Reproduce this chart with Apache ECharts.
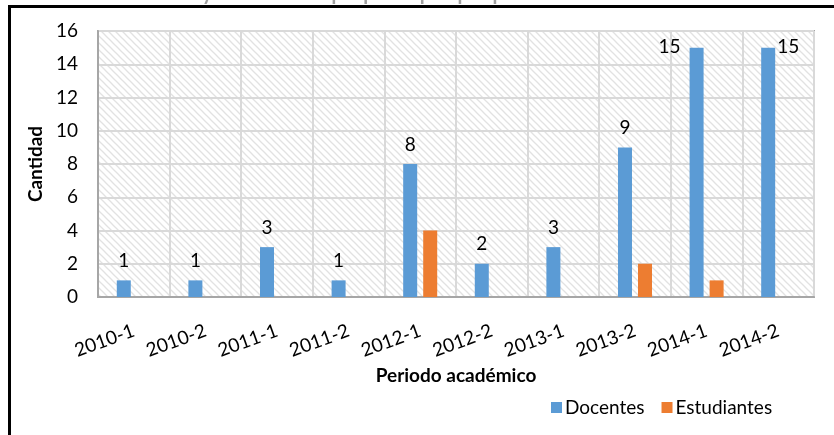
<!DOCTYPE html>
<html>
<head>
<meta charset="utf-8">
<script src="https://cdn.jsdelivr.net/npm/echarts@6/dist/echarts.min.js"></script>
<style>
  html, body { margin: 0; padding: 0; background: #fff; }
  #chart { width: 834px; height: 435px; }
</style>
</head>
<body>
<div id="chart"></div>
<script>
// Academic periods and participant counts
const periodos = ['2010-1', '2010-2', '2011-1', '2011-2', '2012-1', '2012-2', '2013-1', '2013-2', '2014-1', '2014-2'];
const docentes = [1, 1, 3, 1, 8, 2, 3, 9, 15, 15];
const estudiantes = [0, 0, 0, 0, 4, 0, 0, 2, 1, 0];
const yTicks = { min: 0, max: 16, interval: 2 };

const FONT = 'Lato, "Open Sans", sans-serif';

// Diagonal hatch pattern for the plot background
function hatchPattern() {
  const s = 7;
  const c = document.createElement('canvas');
  c.width = s; c.height = s;
  const ctx = c.getContext('2d');
  ctx.fillStyle = '#ffffff';
  ctx.fillRect(0, 0, s, s);
  ctx.strokeStyle = '#e2e2e2';
  ctx.lineWidth = 1.3;
  for (const off of [-s, 0, s]) {
    ctx.beginPath();
    ctx.moveTo(off - 1, -1);
    ctx.lineTo(off + s + 1, s + 1);
    ctx.stroke();
  }
  return { image: c, repeat: 'repeat' };
}

// Label placement for the tall bars that reach the top of the plot
const labelOverrides = {
  8: { position: 'top', offset: [-27, 19] },
  9: { position: 'top', offset: [20, 19] }
};

const docentesData = docentes.map((v, i) => {
  const item = { value: v };
  if (labelOverrides[i]) item.label = labelOverrides[i];
  return item;
});

const chart = echarts.init(document.getElementById('chart'), null, { renderer: 'canvas' });

chart.setOption({
  animation: false,
  backgroundColor: '#ffffff',
  textStyle: { fontFamily: FONT },
  grid: {
    left: 98, right: 20, top: 31, bottom: 138,
    show: true,
    backgroundColor: hatchPattern(),
    borderColor: '#a6a6a6',
    borderWidth: 2
  },
  graphic: [
    {
      type: 'text', left: 40, top: -16, silent: true,
      style: {
        text: 'Tabla 4. Docentes y estudiantes que participan por periodo académico',
        fill: '#a0a0a0', font: 'bold 20px ' + FONT
      }
    },
    { type: 'rect', shape: { x: 0, y: 5, width: 834, height: 430 }, style: { fill: '#fff' }, z: -1, silent: true },
    { type: 'line', shape: { x1: 9.5, y1: 6.5, x2: 834, y2: 6.5 }, style: { stroke: '#000', lineWidth: 3 } },
    { type: 'line', shape: { x1: 9.5, y1: 5, x2: 9.5, y2: 435 }, style: { stroke: '#000', lineWidth: 3 } }
  ],
  legend: {
    left: 546, top: 393,
    itemWidth: 11, itemHeight: 11, itemGap: 17,
    icon: 'rect',
    textStyle: { fontSize: 19, color: '#000', fontFamily: FONT, padding: [0, 0, 0, -2] },
    data: ['Docentes', 'Estudiantes']
  },
  xAxis: {
    type: 'category',
    data: periodos,
    name: 'Periodo académico',
    nameLocation: 'middle',
    nameGap: 68,
    nameTextStyle: { fontSize: 19, fontWeight: 'bold', color: '#000', fontFamily: FONT },
    axisLine: { lineStyle: { color: '#a6a6a6', width: 2 } },
    axisTick: { show: false },
    axisLabel: { rotate: 20, fontSize: 19, color: '#000', margin: 33, interval: 0, fontFamily: FONT },
    splitLine: { show: true, interval: 0, lineStyle: { color: '#d9d9d9', width: 2 } }
  },
  yAxis: {
    type: 'value',
    min: yTicks.min, max: yTicks.max, interval: yTicks.interval,
    name: 'Cantidad',
    nameLocation: 'middle',
    nameGap: 44,
    nameRotate: 90,
    nameTextStyle: { fontSize: 19, fontWeight: 'bold', color: '#000', fontFamily: FONT },
    axisLine: { show: true, lineStyle: { color: '#a6a6a6', width: 2 } },
    axisTick: { show: false },
    axisLabel: { fontSize: 19, color: '#000', margin: 20, fontFamily: FONT },
    splitLine: { show: true, lineStyle: { color: '#d9d9d9', width: 2 } }
  },
  series: [
    {
      name: 'Docentes',
      type: 'bar',
      data: docentesData,
      barWidth: 14,
      barGap: '43%',
      itemStyle: { color: '#5b9bd5' },
      label: { show: true, position: 'top', distance: 10, fontSize: 19, color: '#000', fontFamily: FONT }
    },
    {
      name: 'Estudiantes',
      type: 'bar',
      data: estudiantes,
      barWidth: 14,
      itemStyle: { color: '#ed7d31' }
    }
  ]
});
</script>
</body>
</html>
